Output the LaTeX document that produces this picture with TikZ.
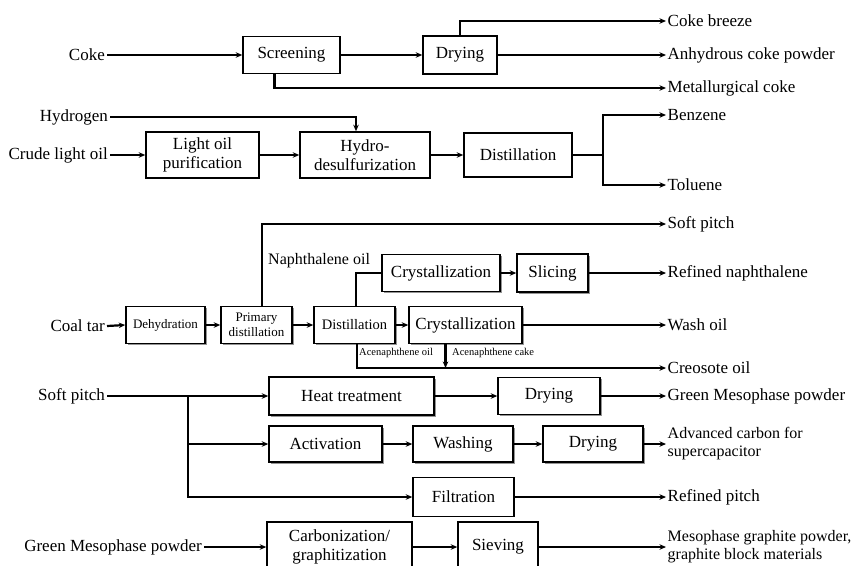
\documentclass[tikz,border=0pt]{standalone}
\usepackage{fontspec}
\setmainfont{Liberation Serif}
\usetikzlibrary{arrows.meta,shadows}

\begin{document}
\begin{tikzpicture}[x=1pt,y=-1pt,
  box/.style={draw=black, line width=1.5pt, fill=white, align=center, inner sep=0pt, font=\fontsize{17}{19}\selectfont},
  sbox/.style={box, drop shadow={shadow xshift=1.5pt, shadow yshift=-1.5pt, fill=black!70, opacity=0.6}},
  flow/.style={line width=2.2pt, -{Stealth[length=6.5pt,width=5.5pt]}},
  pipe/.style={line width=2.2pt},
  feed/.style={anchor=east, inner sep=2pt, font=\fontsize{17}{19}\selectfont},
  prod/.style={anchor=west, inner sep=1.5pt, align=left, font=\fontsize{17}{19}\selectfont},
  note/.style={anchor=west, inner sep=0pt, font=\fontsize{10.5}{12}\selectfont}]

  \useasboundingbox (0,0) rectangle (854,565);

  % coke
  \node[feed] (coke) at (107,55) {Coke};
  \node[box, minimum width=97pt, minimum height=37pt] (screen) at (291.5,55) {Screening};
  \node[box, minimum width=74pt, minimum height=38pt] (dry1) at (460,55) {Drying};
  \node[prod] (breeze) at (666,21) {Coke breeze};
  \node[prod] (anhyd) at (666,55) {Anhydrous coke powder};
  \node[prod] (metcoke) at (666,88) {Metallurgical coke};

  \draw[flow] (coke.east) -- (screen.west);
  \draw[flow] (screen.east) -- (dry1.west);
  \draw[flow] (dry1.north) |- (breeze.west);
  \draw[flow] (dry1.east) -- (anhyd.west);
  \draw[flow] ([xshift=-17pt]screen.south) |- (metcoke.west);

  % crude light oil
  \node[feed] (hydrogen) at (110,117) {Hydrogen};
  \node[feed] (crude) at (110,155) {Crude light oil};
  \node[box, minimum width=113pt, minimum height=46pt] (lop) at (202.5,155) {Light oil\\purification};
  \node[box, minimum width=130pt, minimum height=46pt] (hds) at (365,155) {Hydro-\\desulfurization};
  \node[box, minimum width=108pt, minimum height=44pt] (dist1) at (518,155) {Distillation};
  \coordinate (split) at (603,155);
  \node[prod] (benzene) at (666,115) {Benzene};
  \node[prod] (toluene) at (666,185) {Toluene};

  \draw[flow] (hydrogen.east) -| ([xshift=-9pt]hds.north);
  \draw[flow] (crude.east) -- (lop.west);
  \draw[flow] (lop.east) -- (hds.west);
  \draw[flow] (hds.east) -- (dist1.west);
  \draw[pipe] (dist1.east) -- (split);
  \draw[flow] (split) |- (benzene.west);
  \draw[flow] (split) |- (toluene.west);

  % coal tar
  \node[feed] (coaltar) at (107,326) {Coal tar};
  \node[sbox, minimum width=79pt, minimum height=37pt, font=\fontsize{13}{15}\selectfont] (dehyd) at (165.5,325) {Dehydration};
  \node[sbox, minimum width=71pt, minimum height=37pt, font=\fontsize{13}{15}\selectfont] (prim) at (256.5,325) {Primary\\distillation};
  \node[sbox, minimum width=81pt, minimum height=37pt, font=\fontsize{14.5}{16}\selectfont] (dist2) at (354.5,325) {Distillation};
  \node[sbox, minimum width=113pt, minimum height=37pt] (cryst2) at (465.5,325) {Crystallization};
  \node[sbox, minimum width=118pt, minimum height=37pt] (cryst1) at (441,273) {Crystallization};
  \node[sbox, minimum width=71pt, minimum height=38pt] (slice) at (552.5,273) {Slicing};
  \node[prod] (softpitch) at (666,224) {Soft pitch};
  \node[prod] (naph) at (666,273) {Refined naphthalene};
  \node[prod] (washoil) at (666,325) {Wash oil};
  \node[prod] (creosote) at (666,368) {Creosote oil};
  \node[anchor=west, inner sep=0pt, font=\fontsize{16}{18}\selectfont] (naphoil) at (268,261) {Naphthalene oil};
  \node[note] (aceoil) at (359,353) {Acenaphthene oil};
  \node[note] (acecake) at (452,353) {Acenaphthene cake};
  \coordinate (cake) at ([xshift=-20pt]cryst2.south);

  \draw[flow] (coaltar.east) -- (dehyd.west);
  \draw[flow] (dehyd.east) -- (prim.west);
  \draw[flow] (prim.east) -- (dist2.west);
  \draw[flow] (dist2.east) -- (cryst2.west);
  \draw[flow] ([xshift=5.5pt]prim.north) |- (softpitch.west);
  \draw[pipe] ([xshift=1.5pt]dist2.north) |- (cryst1.west);
  \draw[flow] (cryst1.east) -- (slice.west);
  \draw[flow] (slice.east) -- (naph.west);
  \draw[flow] (cryst2.east) -- (washoil.west);
  \draw[flow] ([xshift=2.5pt]dist2.south) |- (creosote.west);
  \draw[flow] (cake) -- (cake |- creosote.west);

  % soft pitch
  \node[feed] (pitch) at (107,396) {Soft pitch};
  \coordinate (fork) at (188,396);
  \node[sbox, minimum width=165pt, minimum height=38pt] (heat) at (351.5,396) {Heat treatment};
  \node[sbox, minimum width=102pt, minimum height=37pt] (dry3) at (549,396) {Drying};
  \node[sbox, minimum width=113pt, minimum height=36pt] (act) at (325.5,444) {Activation};
  \node[sbox, minimum width=100pt, minimum height=36pt] (wash) at (463,444) {Washing};
  \node[sbox, minimum width=100pt, minimum height=36pt] (dry2) at (593,444) {Drying};
  \node[box, minimum width=101pt, minimum height=39pt] (filt) at (463.5,497) {Filtration};
  \node[prod] (greenout) at (666,396) {Green Mesophase powder};
  \node[prod, font=\fontsize{16}{18}\selectfont] (adv) at (666,444) {Advanced carbon for\\supercapacitor};
  \node[prod] (refpitch) at (666,497) {Refined pitch};

  \draw[flow] (pitch.east) -- (heat.west);
  \draw[flow] (fork) |- (act.west);
  \draw[flow] (fork) |- (filt.west);
  \draw[flow] (heat.east) -- (dry3.west);
  \draw[flow] (dry3.east) -- (greenout.west);
  \draw[flow] (act.east) -- (wash.west);
  \draw[flow] (wash.east) -- (dry2.west);
  \draw[flow] (dry2.east) -- (adv.west);
  \draw[flow] (filt.east) -- (refpitch.west);

  % green mesophase powder
  \node[feed] (greenin) at (204,547) {Green Mesophase powder};
  \node[box, minimum width=145pt, minimum height=50pt] (carb) at (339.5,547) {Carbonization/\\graphitization};
  \node[box, minimum width=80pt, minimum height=50pt] (sieve) at (498,547) {Sieving};
  \node[prod, font=\fontsize{16}{18}\selectfont] (graph) at (666,547) {Mesophase graphite powder,\\graphite block materials};

  \draw[flow] (greenin.east) -- (carb.west);
  \draw[flow] (carb.east) -- (sieve.west);
  \draw[flow] (sieve.east) -- (graph.west);

\end{tikzpicture}
\end{document}
